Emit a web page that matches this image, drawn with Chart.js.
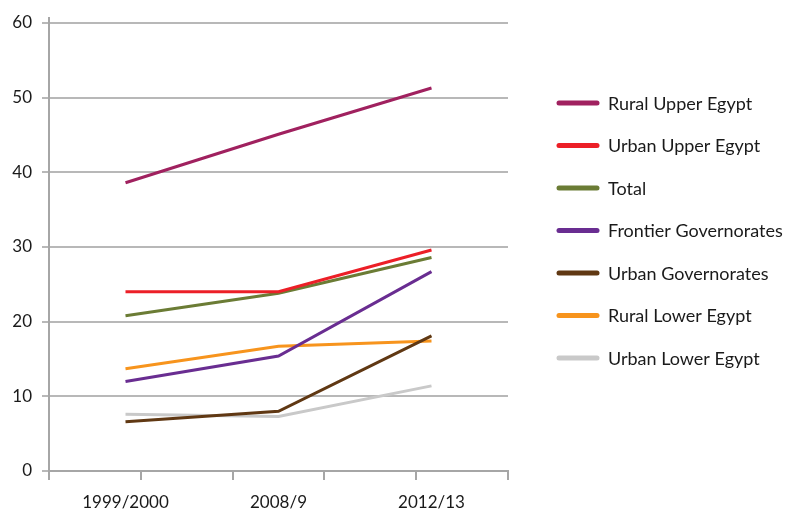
<!DOCTYPE html>
<html>
<head>
<meta charset="utf-8">
<script src="https://cdn.jsdelivr.net/npm/chart.js@4/dist/chart.umd.min.js"></script>
<style>
  html, body { margin: 0; padding: 0; background: #ffffff; }
  #wrap { width: 791px; height: 513px; }
</style>
</head>
<body>
<div id="wrap"><canvas id="c" width="791" height="513"></canvas></div>
<script>
const categories = ["1999/2000", "2008/9", "2012/13"];
const yTicks = [0, 10, 20, 30, 40, 50, 60];

const seriesNames = [
  "Rural Upper Egypt",
  "Urban Upper Egypt",
  "Total",
  "Frontier Governorates",
  "Urban Governorates",
  "Rural Lower Egypt",
  "Urban Lower Egypt"
];
const ruralUpperEgypt      = [38.6, 45.1, 51.3];
const urbanUpperEgypt      = [24.0, 24.0, 29.6];
const total                = [20.8, 23.8, 28.6];
const frontierGovernorates = [12.0, 15.4, 26.7];
const urbanGovernorates    = [6.6, 8.0, 18.1];
const ruralLowerEgypt      = [13.7, 16.7, 17.4];
const urbanLowerEgypt      = [7.6, 7.3, 11.4];

const seriesValues = [ruralUpperEgypt, urbanUpperEgypt, total, frontierGovernorates,
                      urbanGovernorates, ruralLowerEgypt, urbanLowerEgypt];
const seriesColors = ["#a0215f", "#ec1f27", "#6b7c35", "#692d91", "#603813", "#f7941d", "#c9c9c9"];

const FONT = "Lato, 'Open Sans', sans-serif";
const AXIS = "#a6a6a6";
const GRID = "#b8b8b8";

const datasets = seriesNames.map((name, i) => ({
  label: name,
  data: seriesValues[i],
  borderColor: seriesColors[i],
  backgroundColor: seriesColors[i],
  borderWidth: 3,
  pointRadius: 0,
  pointHoverRadius: 0,
  tension: 0,
  fill: false
}));

const legendPlugin = {
  id: 'sideLegend',
  afterDraw(chart) {
    const ctx = chart.ctx;
    ctx.save();
    // small extension of the value axis above the top gridline
    const ca = chart.chartArea;
    ctx.strokeStyle = AXIS;
    ctx.lineWidth = 2;
    ctx.beginPath();
    ctx.moveTo(ca.left, ca.top - 6);
    ctx.lineTo(ca.left, ca.top);
    ctx.stroke();

    const x0 = 557, x1 = 599, tx = 608, y0 = 103, step = 42.5;
    chart.data.datasets.forEach((ds, i) => {
      const y = y0 + i * step;
      ctx.strokeStyle = ds.borderColor;
      ctx.lineWidth = 5;
      ctx.lineCap = 'round';
      ctx.beginPath();
      ctx.moveTo(x0 + 2, y);
      ctx.lineTo(x1 - 2, y);
      ctx.stroke();
      ctx.fillStyle = '#1a1a1a';
      ctx.font = "18px " + FONT;
      ctx.textBaseline = 'middle';
      ctx.textAlign = 'left';
      ctx.fillText(ds.label, tx, y + 1);
    });
    ctx.restore();
  }
};

new Chart(document.getElementById('c'), {
  type: 'line',
  data: { labels: categories, datasets: datasets },
  options: {
    responsive: false,
    animation: false,
    events: [],
    layout: { padding: { top: 23, right: 283, left: 0, bottom: 0 } },
    plugins: { legend: { display: false }, tooltip: { enabled: false } },
    scales: {
      x: {
        type: 'category',
        offset: true,
        position: 'bottom',
        weight: 1,
        grid: { display: false, drawTicks: false },
        border: { display: false },
        ticks: { color: '#1a1a1a', font: { family: FONT, size: 17 }, padding: 12, maxRotation: 0 },
        afterFit(s) { s.height = 33; }
      },
      x2: {
        type: 'linear',
        position: 'bottom',
        weight: 0,
        min: 0, max: 5,
        grid: { drawOnChartArea: false, drawTicks: true, tickLength: 9, color: AXIS, lineWidth: 2 },
        border: { display: true, color: AXIS, width: 2 },
        ticks: { display: false, stepSize: 1 },
        afterFit(s) { s.height = 9; }
      },
      y: {
        min: 0, max: 60,
        afterBuildTicks(s) { s.ticks = yTicks.map(v => ({ value: v })); },
        grid: { color: GRID, lineWidth: 2, tickLength: 7, drawTicks: true },
        border: { display: true, color: AXIS, width: 2 },
        ticks: { color: '#1a1a1a', font: { family: FONT, size: 17 }, padding: 10 },
        afterFit(s) { s.width = 49; }
      }
    }
  },
  plugins: [legendPlugin]
});
</script>
</body>
</html>
